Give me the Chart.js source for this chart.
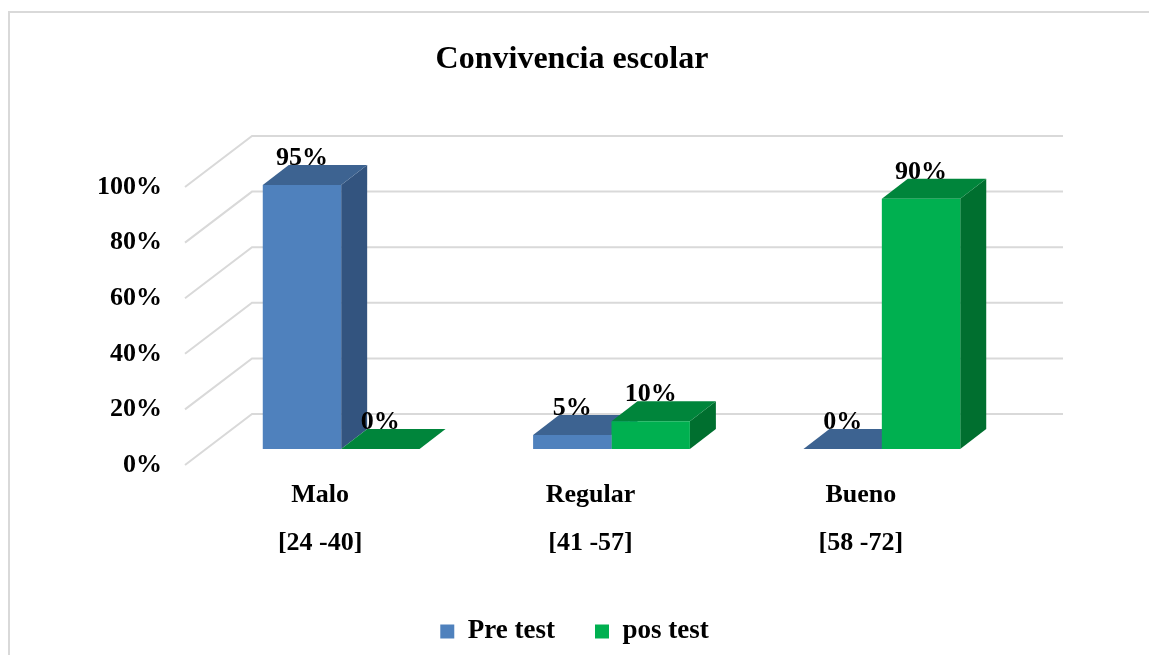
<!DOCTYPE html>
<html>
<head>
<meta charset="utf-8">
<script src="https://cdn.jsdelivr.net/npm/chart.js@4/dist/chart.umd.min.js"></script>
<style>
  html, body { margin: 0; padding: 0; background: #fff; }
  #wrap { position: relative; width: 1149px; height: 655px; }
  #frame { position: absolute; left: 8px; top: 11px; right: -4px; bottom: -4px;
           border-left: 2px solid #d9d9d9; border-top: 2px solid #d9d9d9; }
  canvas { position: absolute; left: 0; top: 0; }
</style>
</head>
<body>
<div id="wrap">
  <div id="frame"></div>
  <canvas id="chart" width="1149" height="655"></canvas>
</div>
<script>
const categories = [['Malo', '[24 -40]'], ['Regular', '[41 -57]'], ['Bueno', '[58 -72]']];
const preTest = [95, 5, 0];
const posTest = [0, 10, 90];
const yTicks = [0, 20, 40, 60, 80, 100];
const chartTitle = 'Convivencia escolar';

const FONT = '"Liberation Serif", "Times New Roman", serif';

// depth of the floor/back wall and where the bars sit inside it
const WALL = { dx: 67, dy: -51 };
const BAR_SHIFT = { dx: 21, dy: -16 };
const BAR_DEPTH = { dx: 26, dy: -20 };

const faceColors = [
  { top: '#3d6391', side: '#33547f' },
  { top: '#00853b', side: '#006f2f' }
];

const fake3d = {
  id: 'fake3d',
  beforeDatasetsDraw(chart) {
    const ctx = chart.ctx;
    const area = chart.chartArea;
    const y = chart.scales.y;

    ctx.save();
    // back wall + left wall grid
    ctx.strokeStyle = '#d9d9d9';
    ctx.lineWidth = 2;
    yTicks.forEach(v => {
      const py = y.getPixelForValue(v);
      ctx.beginPath();
      ctx.moveTo(area.left, py);
      ctx.lineTo(area.left + WALL.dx, py + WALL.dy);
      ctx.lineTo(area.right + WALL.dx, py + WALL.dy);
      ctx.stroke();
    });

    // top and side faces of the bars
    ctx.translate(BAR_SHIFT.dx, BAR_SHIFT.dy);
    chart.data.datasets.forEach((ds, i) => {
      const meta = chart.getDatasetMeta(i);
      meta.data.forEach(bar => {
        const L = bar.x - bar.width / 2, R = bar.x + bar.width / 2;
        const T = bar.y, B = bar.base;
        ctx.fillStyle = faceColors[i].side;
        ctx.beginPath();
        ctx.moveTo(R, T);
        ctx.lineTo(R + BAR_DEPTH.dx, T + BAR_DEPTH.dy);
        ctx.lineTo(R + BAR_DEPTH.dx, B + BAR_DEPTH.dy);
        ctx.lineTo(R, B);
        ctx.closePath();
        ctx.fill();
        ctx.fillStyle = faceColors[i].top;
        ctx.beginPath();
        ctx.moveTo(L, T);
        ctx.lineTo(L + BAR_DEPTH.dx, T + BAR_DEPTH.dy);
        ctx.lineTo(R + BAR_DEPTH.dx, T + BAR_DEPTH.dy);
        ctx.lineTo(R, T);
        ctx.closePath();
        ctx.fill();
      });
    });
    // front faces are drawn by Chart.js with this shift still applied
  },
  afterDatasetsDraw(chart) {
    const ctx = chart.ctx;
    ctx.restore();

    ctx.save();
    ctx.fillStyle = '#000';
    ctx.font = 'bold 26px ' + FONT;
    ctx.textAlign = 'center';
    ctx.textBaseline = 'middle';
    chart.data.datasets.forEach((ds, i) => {
      chart.getDatasetMeta(i).data.forEach((bar, j) => {
        ctx.fillText(ds.data[j] + '%', bar.x + BAR_SHIFT.dx, bar.y + BAR_SHIFT.dy - 27);
      });
    });

    // title, centred on the whole canvas
    ctx.font = 'bold 32px ' + FONT;
    ctx.fillText(chartTitle, 572, 60);
    ctx.restore();
  }
};

new Chart(document.getElementById('chart'), {
  type: 'bar',
  data: {
    labels: categories,
    datasets: [
      { label: 'Pre test', data: preTest, backgroundColor: '#4f81bd', borderWidth: 0, clip: false },
      { label: 'pos test', data: posTest, backgroundColor: '#00b050', borderWidth: 0, clip: false }
    ]
  },
  options: {
    responsive: false,
    animation: false,
    layout: { padding: { left: 0, right: 0, top: 187, bottom: 0 } },
    datasets: { bar: { categoryPercentage: 0.58, barPercentage: 1 } },
    scales: {
      x: {
        grid: { display: false, drawTicks: false },
        border: { display: false },
        ticks: { color: '#000', padding: 6, font: { family: FONT, size: 26, weight: 'bold', lineHeight: 1.85 } },
        afterFit(scale) { scale.height = 113; }
      },
      y: {
        min: 0,
        max: 100,
        grid: { display: false, drawTicks: false },
        border: { display: false },
        ticks: {
          stepSize: 20,
          padding: 23,
          color: '#000',
          font: { family: FONT, size: 26, weight: 'bold' },
          callback: v => v + '%'
        },
        afterFit(scale) { scale.width = 185; }
      },
      // empty axis on the right, only reserves the room behind the back wall
      yRight: {
        type: 'linear',
        position: 'right',
        grid: { display: false, drawTicks: false },
        border: { display: false },
        ticks: { display: false },
        afterFit(scale) { scale.width = 153; }
      }
    },
    plugins: {
      title: { display: false },
      legend: {
        position: 'bottom',
        labels: {
          color: '#000',
          boxWidth: 14,
          boxHeight: 14,
          padding: 40,
          font: { family: FONT, size: 27, weight: 'bold' }
        }
      },
      tooltip: { enabled: false }
    }
  },
  plugins: [fake3d]
});
</script>
</body>
</html>
